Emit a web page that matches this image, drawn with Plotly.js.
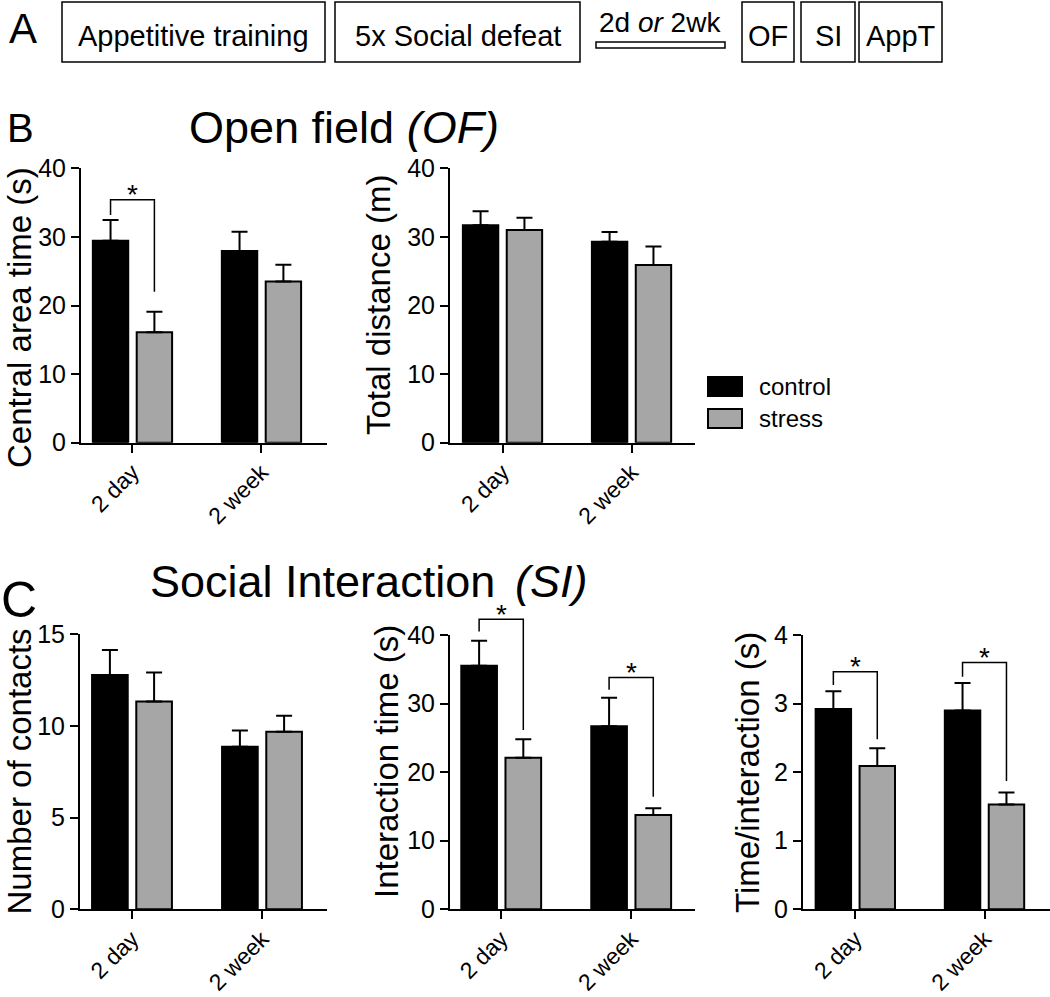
<!DOCTYPE html>
<html>
<head>
<meta charset="utf-8">
<script src="https://cdn.plot.ly/plotly-3.0.1.min.js"></script>
<style>html,body{margin:0;padding:0;background:#fff;}</style>
</head>
<body>
<div id="chart" style="width:1050px;height:997px;"></div>
<script>
// ---------------- DATA ----------------
const categories = ['2 day', '2 week'];
const seriesNames = ['control', 'stress'];

// B: Open field (OF)
const centralTimeControl = [29.45, 27.95];
const centralTimeControlErr = [3.0, 2.8];
const centralTimeStress = [16.1, 23.5];
const centralTimeStressErr = [3.0, 2.45];

const distanceControl = [31.7, 29.3];
const distanceControlErr = [2.05, 1.4];
const distanceStress = [31.0, 25.9];
const distanceStressErr = [1.8, 2.7];

// C: Social Interaction (SI)
const contactsControl = [12.78, 8.87];
const contactsControlErr = [1.37, 0.88];
const contactsStress = [11.33, 9.69];
const contactsStressErr = [1.58, 0.87];

const interactionTimeControl = [35.5, 26.7];
const interactionTimeControlErr = [3.65, 4.15];
const interactionTimeStress = [22.1, 13.75];
const interactionTimeStressErr = [2.7, 0.98];

const timePerInteractionControl = [2.92, 2.90];
const timePerInteractionControlErr = [0.26, 0.40];
const timePerInteractionStress = [2.09, 1.53];
const timePerInteractionStressErr = [0.26, 0.175];

// significance brackets (panel index, category index, top, left-leg end, right-leg end)
const sigPanel = [0, 3, 3, 4, 4];
const sigCategory = [0, 0, 1, 0, 1];
const sigTop = [35.4, 42.3, 33.8, 3.465, 3.6];
const sigLeftEnd = [33.2, 40.5, 32.0, 3.27, 3.39];
const sigRightEnd = [22.0, 26.15, 16.4, 2.48, 1.87];
const sigLabel = '*';

// panel A timeline text
const timelineSteps = ['Appetitive training', '5x Social defeat', 'OF', 'SI', 'AppT'];
const delayLabel = '2d <i>or</i> 2wk';

// ---------------- LAYOUT HELPERS ----------------
const W = 1050, H = 997;
const px = x => x / W;
const py = y => 1 - y / H;
const FONT = 'Liberation Sans, Arial, Helvetica, sans-serif';
const BLACK = '#000000', GREY = '#a6a6a6';
const BARGAP = 0.32, BARGROUPGAP = 0.193;
const SLOT = (1 - BARGAP) / 2; // category units per series
const OFFSETS = [-SLOT / 2, SLOT / 2];

const panels = [
  {xd:[81,327], yd:[168.3,442.7], xr:[-0.399,1.508], ymax:40, dtick:10, title:'Central area time (s)', tpos:[19,318],
   ctrl:centralTimeControl, ctrlErr:centralTimeControlErr, str:centralTimeStress, strErr:centralTimeStressErr},
  {xd:[450,695], yd:[168.3,442.7], xr:[-0.407,1.492], ymax:40, dtick:10, title:'Total distance (m)', tpos:[378,305],
   ctrl:distanceControl, ctrlErr:distanceControlErr, str:distanceStress, strErr:distanceStressErr},
  {xd:[80,327], yd:[634.3,909.3], xr:[-0.4,1.5], ymax:15, dtick:5, title:'Number of contacts', tpos:[19,771.5],
   ctrl:contactsControl, ctrlErr:contactsControlErr, str:contactsStress, strErr:contactsStressErr},
  {xd:[450,695], yd:[635,909.3], xr:[-0.394,1.491], ymax:40, dtick:10, title:'Interaction time (s)', tpos:[386,762],
   ctrl:interactionTimeControl, ctrlErr:interactionTimeControlErr, str:interactionTimeStress, strErr:interactionTimeStressErr},
  {xd:[803,1050], yd:[635,909.3], xr:[-0.405,1.507], ymax:4, dtick:1, title:'Time/interaction (s)', tpos:[747,773],
   ctrl:timePerInteractionControl, ctrlErr:timePerInteractionControlErr, str:timePerInteractionStress, strErr:timePerInteractionStressErr}
];

const traces = [];
const layout = {
  width: W, height: H,
  margin: {l:0, r:0, t:0, b:0, pad:0},
  paper_bgcolor: '#ffffff', plot_bgcolor: '#ffffff',
  font: {family: FONT, color: BLACK},
  barmode: 'group', bargap: BARGAP, bargroupgap: BARGROUPGAP,
  showlegend: false,
  shapes: [], annotations: []
};

panels.forEach((p, i) => {
  const s = i === 0 ? '' : String(i + 1);
  const errStyle = {type:'data', symmetric:false, color:BLACK, thickness:2, width:8};
  traces.push({
    type:'bar', name:seriesNames[0], x:categories, y:p.ctrl, xaxis:'x'+s, yaxis:'y'+s,
    marker:{color:BLACK, line:{color:BLACK, width:2}},
    error_y:Object.assign({array:p.ctrlErr, arrayminus:p.ctrl.map(() => 0)}, errStyle),
    hoverinfo:'skip'
  });
  traces.push({
    type:'bar', name:seriesNames[1], x:categories, y:p.str, xaxis:'x'+s, yaxis:'y'+s,
    marker:{color:GREY, line:{color:BLACK, width:2}},
    error_y:Object.assign({array:p.strErr, arrayminus:p.str.map(() => 0)}, errStyle),
    hoverinfo:'skip'
  });
  const axCommon = {showline:true, linecolor:BLACK, linewidth:2, ticks:'outside', ticklen:8, tickwidth:2,
    tickcolor:BLACK, showgrid:false, zeroline:false, fixedrange:true};
  layout['xaxis'+s] = Object.assign({}, axCommon, {
    domain:[px(p.xd[0]), px(p.xd[1])], anchor:'y'+s, type:'category', range:p.xr, tickangle:-45,
    tickfont:{family:FONT, size:23, color:BLACK}, ticklabelstandoff:-3
  });
  layout['yaxis'+s] = Object.assign({}, axCommon, {
    domain:[py(p.yd[1]), py(p.yd[0])], anchor:'x'+s, range:[0, p.ymax], tick0:0, dtick:p.dtick,
    tickfont:{family:FONT, size:25, color:BLACK}
  });
  layout.annotations.push({
    xref:'paper', yref:'paper', x:px(p.tpos[0]), y:py(p.tpos[1]), text:p.title, textangle:-90,
    showarrow:false, xanchor:'center', yanchor:'middle', font:{family:FONT, size:33, color:BLACK}
  });
});

// significance brackets
const toPx = (p, c, off) => p.xd[0] + (c + off - p.xr[0]) / (p.xr[1] - p.xr[0]) * (p.xd[1] - p.xd[0]);
const toPy = (p, v) => p.yd[1] - v / p.ymax * (p.yd[1] - p.yd[0]);
sigPanel.forEach((pi, k) => {
  const p = panels[pi];
  const c = sigCategory[k];
  const xl = px(toPx(p, c, OFFSETS[0])), xr = px(toPx(p, c, OFFSETS[1]));
  const yt = py(toPy(p, sigTop[k])), yl = py(toPy(p, sigLeftEnd[k])), yr = py(toPy(p, sigRightEnd[k]));
  layout.shapes.push({
    type:'path', xref:'paper', yref:'paper',
    path:`M${xl},${yl} L${xl},${yt} L${xr},${yt} L${xr},${yr}`,
    line:{color:BLACK, width:1.5}
  });
  layout.annotations.push({
    xref:'paper', yref:'paper', x:(xl + xr) / 2, y:yt, yshift:5, text:sigLabel, showarrow:false,
    xanchor:'center', yanchor:'middle', font:{family:FONT, size:28, color:BLACK}
  });
});

// legend (manual, to match the wide swatches)
const legendSwatches = [[377, 396, BLACK], [409, 428, GREY]];
legendSwatches.forEach((sw, k) => {
  layout.shapes.push({type:'rect', xref:'paper', yref:'paper', x0:px(708), x1:px(742), y0:py(sw[1]), y1:py(sw[0]),
    fillcolor:sw[2], line:{color:BLACK, width:2}});
  layout.annotations.push({xref:'paper', yref:'paper', x:px(757), y:py((sw[0] + sw[1]) / 2), text:seriesNames[k],
    showarrow:false, xanchor:'left', yanchor:'middle', font:{family:FONT, size:24, color:BLACK}});
});

// panel A timeline
const stepBoxes = [[62,325], [335,580], [742,794], [801,855], [859,942]];
stepBoxes.forEach((b, k) => {
  layout.shapes.push({type:'rect', xref:'paper', yref:'paper', x0:px(b[0]), x1:px(b[1]), y0:py(62), y1:py(2),
    line:{color:BLACK, width:1.5}, fillcolor:'rgba(0,0,0,0)'});
  layout.annotations.push({xref:'paper', yref:'paper', x:px((b[0] + b[1]) / 2), y:py(36), text:timelineSteps[k],
    showarrow:false, xanchor:'center', yanchor:'middle', font:{family:FONT, size:29, color:BLACK}});
});
layout.shapes.push({type:'rect', xref:'paper', yref:'paper', x0:px(596), x1:px(725), y0:py(48), y1:py(42),
  line:{color:BLACK, width:1.5}, fillcolor:'#ffffff'});
layout.annotations.push({xref:'paper', yref:'paper', x:px(660), y:py(22), text:delayLabel,
  showarrow:false, xanchor:'center', yanchor:'middle', font:{family:FONT, size:28, color:BLACK}});

// panel letters and section titles
const labels = [
  {t:'A', x:22.5, y:28.5, s:42, a:'center'}, {t:'B', x:20, y:127.5, s:40, a:'center'}, {t:'C', x:18.5, y:600, s:50, a:'center'},
  {t:'Open field <i>(OF)</i>', x:344, y:128, s:45, a:'center'},
  {t:'Social Interaction', x:148, y:581.5, s:45, a:'left'},
  {t:'<i>(SI)</i>', x:513, y:581.5, s:45, a:'left'}
];
labels.forEach(l => layout.annotations.push({xref:'paper', yref:'paper', x:px(l.x), y:py(l.y), text:l.t,
  showarrow:false, xanchor:l.a, yanchor:'middle', font:{family:FONT, size:l.s, color:BLACK}}));

Plotly.newPlot('chart', traces, layout, {displayModeBar:false, staticPlot:true});
</script>
</body>
</html>
